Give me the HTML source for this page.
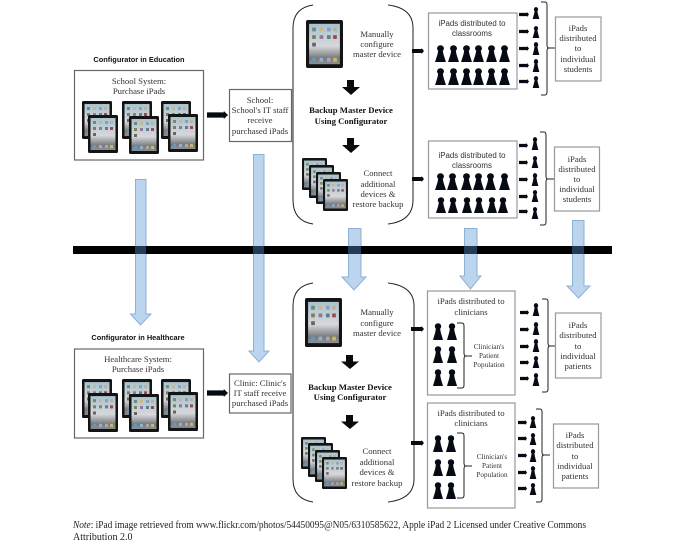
<!DOCTYPE html>
<html><head><meta charset="utf-8"><style>
html,body{margin:0;padding:0;background:#fff;width:684px;height:544px;overflow:hidden}
svg{display:block;filter:blur(.3px)}
.s{font-family:"Liberation Serif",serif;font-size:8.7px;fill:#333;text-anchor:middle}
.b{font-weight:bold;fill:#111}
.a{font-family:"Liberation Sans",sans-serif;font-size:7.9px;fill:#333;text-anchor:middle}
.h{font-family:"Liberation Sans",sans-serif;font-size:7.4px;font-weight:bold;fill:#111;text-anchor:middle}
.p{font-size:7.2px}
.n{font-family:"Liberation Serif",serif;font-size:10px;fill:#222}
.box{fill:#fff;stroke:#666;stroke-width:1.2}
.lb{fill:#fff;stroke:#999;stroke-width:1.2}
.br{fill:none;stroke:#222;stroke-width:1}
.blue{fill:#bcd5ee;stroke:#8fb0d4;stroke-width:1}
.cross{fill:#253a55}
</style></head><body>
<svg width="684" height="544" viewBox="0 0 684 544" xmlns="http://www.w3.org/2000/svg">
<defs>
<linearGradient id="g" x1="0" y1="0" x2="0" y2="1"><stop offset="0" stop-color="#a9c3cf"/><stop offset=".55" stop-color="#d6d8db"/><stop offset=".85" stop-color="#77797d"/><stop offset="1" stop-color="#8d9096"/></linearGradient>
<symbol id="ipad" viewBox="0 0 30 38" preserveAspectRatio="none">
<rect width="30" height="38" rx="1.5" fill="#141414"/><rect x="2.500" y="3" width="25" height="32" fill="url(#g)"/>
<g fill="#6d8a7a"><rect x="5" y="6" width="3" height="3"/><rect x="11" y="6" width="3" height="3" fill="#c9b98a"/><rect x="17" y="6" width="3" height="3" fill="#8aa0b8"/><rect x="22" y="6" width="3" height="3" fill="#b9b2a0"/><rect x="5" y="12" width="3" height="3" fill="#7f7f58"/><rect x="11" y="12" width="3" height="3" fill="#8c7a9a"/><rect x="17" y="12" width="3" height="3" fill="#5f7f8f"/><rect x="22" y="12" width="3" height="3" fill="#a04848"/><rect x="5" y="18" width="3" height="3" fill="#666"/><rect x="5" y="30" width="3" height="3" fill="#5f9ac0"/><rect x="11" y="30" width="3" height="3" fill="#8fb4c8"/><rect x="17" y="30" width="3" height="3" fill="#a9a9a9"/><rect x="22" y="30" width="3" height="3" fill="#d0b860"/></g>
</symbol>
<symbol id="pp" viewBox="0 0 12 17" preserveAspectRatio="none">
<circle cx="6" cy="3.400" r="3.200" fill="#050a14"/><path d="M3.800 6H8.200C8.600 10 10 13 11 17H1C2 13 3.400 10 3.800 6Z" fill="#050a14"/>
</symbol>
<symbol id="ra" viewBox="0 0 10 6" preserveAspectRatio="none"><path d="M0 1H8V0L10 3L8 6V5H0Z" fill="#050a14"/></symbol>
<symbol id="da" viewBox="0 0 18 15" preserveAspectRatio="none"><path d="M5 0H12V7H18L9 15L0 7H5Z" fill="#0a0a0a"/></symbol>
</defs>

<!-- blue arrows -->
<path class="blue" d="M135.500 179.500H146V314H151L140.500 325L130.500 314H135.500Z"/>
<path class="blue" d="M253.500 154.500H264V351H269L259 362L249 351H253.500Z"/>
<path class="blue" d="M348.500 228.500H361V277H366L354 290L342 277H348.500Z"/>
<path class="blue" d="M464.500 228.500H477V276H481L470.500 289L460 276H464.500Z"/>
<path class="blue" d="M572.500 220.500H584V286H590L578.500 298L567 286H572.500Z"/>
<rect x="73" y="246" width="539" height="8" fill="#000"/>
<rect class="cross" x="253" y="246" width="11" height="8"/><rect class="cross" x="135" y="246" width="11" height="8"/><rect class="cross" x="348" y="246" width="13" height="8"/><rect class="cross" x="464" y="246" width="13" height="8"/><rect class="cross" x="572" y="246" width="12" height="8"/>

<!-- Education left -->
<text class="h" x="139" y="62">Configurator in Education</text>
<rect class="box" x="74.500" y="70.500" width="129" height="89.500"/>
<text class="s" x="139" y="84">School System:</text><text class="s" x="139" y="94">Purchase iPads</text>
<use href="#ipad" x="82" y="101" width="30" height="38"/><use href="#ipad" x="88" y="115" width="30" height="38"/>
<use href="#ipad" x="122" y="101" width="30" height="38"/><use href="#ipad" x="129" y="116" width="30" height="38"/>
<use href="#ipad" x="161" y="101" width="30" height="38"/><use href="#ipad" x="168" y="114" width="30" height="38"/>
<use href="#ra" x="207" y="111" width="21" height="8"/>
<rect class="box" x="229.500" y="89.500" width="62" height="52"/>
<text class="s" x="260" y="103">School:</text><text class="s" x="260" y="113">School's IT staff</text><text class="s" x="260" y="123">receive</text><text class="s" x="260" y="134">purchased iPads</text>

<!-- Education bracket -->
<path class="br" d="M313 5Q293 8 293 28V200Q293 221 313 224M388 5Q413 8 413 28V200Q413 221 388 224" stroke-width="1.2"/>
<use href="#ipad" x="306" y="20" width="37" height="48"/>
<text class="s" x="377" y="37">Manually</text><text class="s" x="377" y="47">configure</text><text class="s" x="377" y="57">master device</text>
<use href="#da" x="342" y="80" width="18" height="15"/>
<text class="s b" x="351" y="113">Backup Master Device</text><text class="s b" x="351" y="124">Using Configurator</text>
<use href="#da" x="342" y="138" width="18" height="15"/>
<use href="#ipad" x="302" y="158" width="25" height="32"/><use href="#ipad" x="309" y="165" width="25" height="33"/><use href="#ipad" x="316" y="172" width="25" height="32"/><use href="#ipad" x="323" y="179" width="25" height="32"/>
<text class="s" x="378" y="176">Connect</text><text class="s" x="378" y="187">additional</text><text class="s" x="378" y="197">devices &amp;</text><text class="s" x="378" y="207">restore backup</text>
<use href="#ra" x="412" y="48" width="12" height="6"/><use href="#ra" x="412" y="176" width="12" height="6"/>

<!-- Class box 1 -->
<rect class="lb" x="428.500" y="13" width="88.500" height="76"/>
<text class="a" x="472" y="26">iPads distributed to</text><text class="a" x="472" y="36">classrooms</text>
<g><use href="#pp" x="434" y="45" width="13" height="17"/><use href="#pp" x="447" y="45" width="13" height="17"/><use href="#pp" x="460" y="45" width="13" height="17"/><use href="#pp" x="472" y="45" width="13" height="17"/><use href="#pp" x="485" y="45" width="13" height="17"/><use href="#pp" x="498" y="45" width="13" height="17"/>
<use href="#pp" x="434" y="68" width="13" height="17"/><use href="#pp" x="447" y="68" width="13" height="17"/><use href="#pp" x="460" y="68" width="13" height="17"/><use href="#pp" x="472" y="68" width="13" height="17"/><use href="#pp" x="485" y="68" width="13" height="17"/><use href="#pp" x="498" y="68" width="13" height="17"/></g>
<use href="#ra" x="519" y="12" width="10" height="5"/><use href="#ra" x="519" y="29" width="10" height="5"/><use href="#ra" x="519" y="46" width="10" height="5"/><use href="#ra" x="519" y="63" width="10" height="5"/><use href="#ra" x="519" y="79" width="10" height="5"/>
<use href="#pp" x="532" y="7" width="8" height="12"/><use href="#pp" x="532" y="26" width="8" height="12"/><use href="#pp" x="532" y="42" width="8" height="13"/><use href="#pp" x="532" y="59" width="8" height="13"/><use href="#pp" x="532" y="76" width="8" height="12"/>
<path class="br" d="M541 2H545Q547 2 547 5V45Q547 48 549 48H555M549 48Q547 48 547 51V92Q547 95 545 95H541"/>
<rect class="lb" x="555.500" y="17" width="45.500" height="64"/>
<text class="s" x="578" y="31">iPads</text><text class="s" x="578" y="41">distributed</text><text class="s" x="578" y="51">to</text><text class="s" x="578" y="62">individual</text><text class="s" x="578" y="72">students</text>

<!-- Class box 2 -->
<rect class="lb" x="428.500" y="141" width="88.500" height="77"/>
<text class="a" x="472" y="158">iPads distributed to</text><text class="a" x="472" y="168">classrooms</text>
<g><use href="#pp" x="434" y="173" width="13" height="17"/><use href="#pp" x="446" y="173" width="13" height="17"/><use href="#pp" x="460" y="173" width="13" height="17"/><use href="#pp" x="472" y="173" width="13" height="17"/><use href="#pp" x="484" y="173" width="13" height="17"/><use href="#pp" x="498" y="173" width="13" height="17"/>
<use href="#pp" x="435" y="197" width="12" height="16"/><use href="#pp" x="447" y="197" width="12" height="16"/><use href="#pp" x="461" y="197" width="12" height="16"/><use href="#pp" x="473" y="197" width="12" height="16"/><use href="#pp" x="486" y="197" width="12" height="16"/><use href="#pp" x="497" y="197" width="12" height="16"/></g>
<use href="#ra" x="519" y="143" width="9" height="5"/><use href="#ra" x="519" y="160" width="9" height="5"/><use href="#ra" x="519" y="177" width="9" height="5"/><use href="#ra" x="519" y="194" width="9" height="5"/><use href="#ra" x="519" y="209" width="9" height="5"/>
<use href="#pp" x="531" y="137" width="8" height="13"/><use href="#pp" x="531" y="156" width="8" height="12"/><use href="#pp" x="531" y="173" width="8" height="13"/><use href="#pp" x="531" y="190" width="8" height="12"/><use href="#pp" x="531" y="207" width="8" height="12"/>
<path class="br" d="M540 132H544Q546 132 546 135V176Q546 179 548 179H554M548 179Q546 179 546 182V222Q546 225 544 225H540"/>
<rect class="lb" x="554.500" y="147" width="45" height="64"/>
<text class="s" x="577" y="162">iPads</text><text class="s" x="577" y="172">distributed</text><text class="s" x="577" y="182">to</text><text class="s" x="577" y="192">individual</text><text class="s" x="577" y="202">students</text>

<!-- Healthcare left -->
<text class="h" x="138" y="340">Configurator in Healthcare</text>
<rect class="box" x="74.500" y="349" width="129" height="89"/>
<text class="s" x="138" y="362">Healthcare System:</text><text class="s" x="138" y="372">Purchase iPads</text>
<use href="#ipad" x="82" y="379" width="30" height="39"/><use href="#ipad" x="88" y="393" width="30" height="39"/>
<use href="#ipad" x="122" y="379" width="30" height="39"/><use href="#ipad" x="129" y="394" width="30" height="38"/>
<use href="#ipad" x="161" y="379" width="30" height="39"/><use href="#ipad" x="168" y="392" width="30" height="39"/>
<use href="#ra" x="207" y="389" width="21" height="8"/>
<rect class="box" x="229.500" y="374" width="61.500" height="39"/>
<text class="s" x="260" y="386">Clinic: Clinic's</text><text class="s" x="260" y="396">IT staff receive</text><text class="s" x="260" y="406">purchased iPads</text>

<!-- Healthcare bracket -->
<path class="br" d="M313 283Q293 286 293 306V479Q293 499 313 502M388 283Q414 286 414 306V479Q414 499 388 502" stroke-width="1.2"/>
<use href="#ipad" x="305" y="298" width="37" height="49"/>
<text class="s" x="377" y="315">Manually</text><text class="s" x="377" y="326">configure</text><text class="s" x="377" y="336">master device</text>
<use href="#da" x="341" y="355" width="18" height="14"/>
<text class="s b" x="350" y="390">Backup Master Device</text><text class="s b" x="350" y="400">Using Configurator</text>
<use href="#da" x="341" y="415" width="18" height="14"/>
<use href="#ipad" x="301" y="437" width="25" height="32"/><use href="#ipad" x="308" y="443" width="25" height="34"/><use href="#ipad" x="315" y="450" width="25" height="32"/><use href="#ipad" x="322" y="457" width="25" height="32"/>
<text class="s" x="377" y="454">Connect</text><text class="s" x="377" y="465">additional</text><text class="s" x="377" y="475">devices &amp;</text><text class="s" x="377" y="486">restore backup</text>
<use href="#ra" x="411" y="326" width="13" height="6"/><use href="#ra" x="411" y="440" width="13" height="6"/>

<!-- Clinician box 1 -->
<rect class="lb" x="427.500" y="291" width="87.500" height="104"/>
<text class="s" x="471" y="304">iPads distributed to</text><text class="s" x="471" y="315">clinicians</text>
<use href="#pp" x="432" y="323" width="12" height="17"/><use href="#pp" x="446" y="323" width="12" height="17"/><use href="#pp" x="432" y="346" width="12" height="17"/><use href="#pp" x="446" y="346" width="12" height="17"/><use href="#pp" x="432" y="369" width="12" height="17"/><use href="#pp" x="446" y="369" width="12" height="17"/>
<path class="br" d="M457 323H462Q464 323 464 326V353Q464 356 466 356H472M466 356Q464 356 464 359V385Q464 388 462 388H457"/>
<text class="s p" x="489" y="349">Clinician's</text><text class="s p" x="489" y="358">Patient</text><text class="s p" x="489" y="367">Population</text>
<use href="#ra" x="520" y="310" width="9" height="5"/><use href="#ra" x="520" y="327" width="9" height="5"/><use href="#ra" x="520" y="344" width="9" height="5"/><use href="#ra" x="520" y="360" width="9" height="5"/><use href="#ra" x="520" y="376" width="9" height="5"/>
<use href="#pp" x="532" y="303" width="8" height="13"/><use href="#pp" x="532" y="322" width="8" height="13"/><use href="#pp" x="532" y="339" width="8" height="13"/><use href="#pp" x="532" y="356" width="8" height="12"/><use href="#pp" x="532" y="373" width="8" height="13"/>
<path class="br" d="M542 299H546Q548 299 548 302V343Q548 346 550 346H555M550 346Q548 346 548 349V389Q548 392 546 392H542"/>
<rect class="lb" x="555.500" y="313" width="45.500" height="65"/>
<text class="s" x="578" y="328">iPads</text><text class="s" x="578" y="338">distributed</text><text class="s" x="578" y="349">to</text><text class="s" x="578" y="359">individual</text><text class="s" x="578" y="369">patients</text>

<!-- Clinician box 2 -->
<rect class="lb" x="427.500" y="403" width="87.500" height="105"/>
<text class="s" x="471" y="416">iPads distributed to</text><text class="s" x="471" y="426">clinicians</text>
<use href="#pp" x="432" y="435" width="12" height="17"/><use href="#pp" x="445" y="435" width="12" height="17"/><use href="#pp" x="432" y="459" width="12" height="17"/><use href="#pp" x="445" y="459" width="12" height="17"/><use href="#pp" x="432" y="482" width="12" height="17"/><use href="#pp" x="445" y="482" width="12" height="17"/>
<path class="br" d="M457 433H462Q464 433 464 436V463Q464 466 466 466H472M466 466Q464 466 464 469V495Q464 498 462 498H457"/>
<text class="s p" x="492" y="459">Clinician's</text><text class="s p" x="492" y="468">Patient</text><text class="s p" x="492" y="477">Population</text>
<use href="#ra" x="518" y="420" width="9" height="5"/><use href="#ra" x="518" y="436" width="9" height="5"/><use href="#ra" x="518" y="453" width="9" height="5"/><use href="#ra" x="518" y="470" width="9" height="5"/><use href="#ra" x="518" y="486" width="9" height="5"/>
<use href="#pp" x="529" y="416" width="8" height="12"/><use href="#pp" x="529" y="433" width="8" height="12"/><use href="#pp" x="529" y="449" width="8" height="13"/><use href="#pp" x="529" y="466" width="8" height="13"/><use href="#pp" x="529" y="483" width="8" height="12"/>
<path class="br" d="M536 409H540Q542 409 542 412V452Q542 455 544 455H550M544 455Q542 455 542 458V499Q542 502 540 502H536"/>
<rect class="lb" x="553.500" y="424" width="45" height="64"/>
<text class="s" x="575" y="438">iPads</text><text class="s" x="575" y="448">distributed</text><text class="s" x="575" y="459">to</text><text class="s" x="575" y="469">individual</text><text class="s" x="575" y="479">patients</text>

<!-- Note -->
<text class="n" x="73" y="528" textLength="513" lengthAdjust="spacingAndGlyphs"><tspan font-style="italic">Note</tspan>: iPad image retrieved from www.flickr.com/photos/54450095@N05/6310585622, Apple iPad 2 Licensed under Creative Commons</text>
<text class="n" x="73" y="540">Attribution 2.0</text>
</svg>
</body></html>
